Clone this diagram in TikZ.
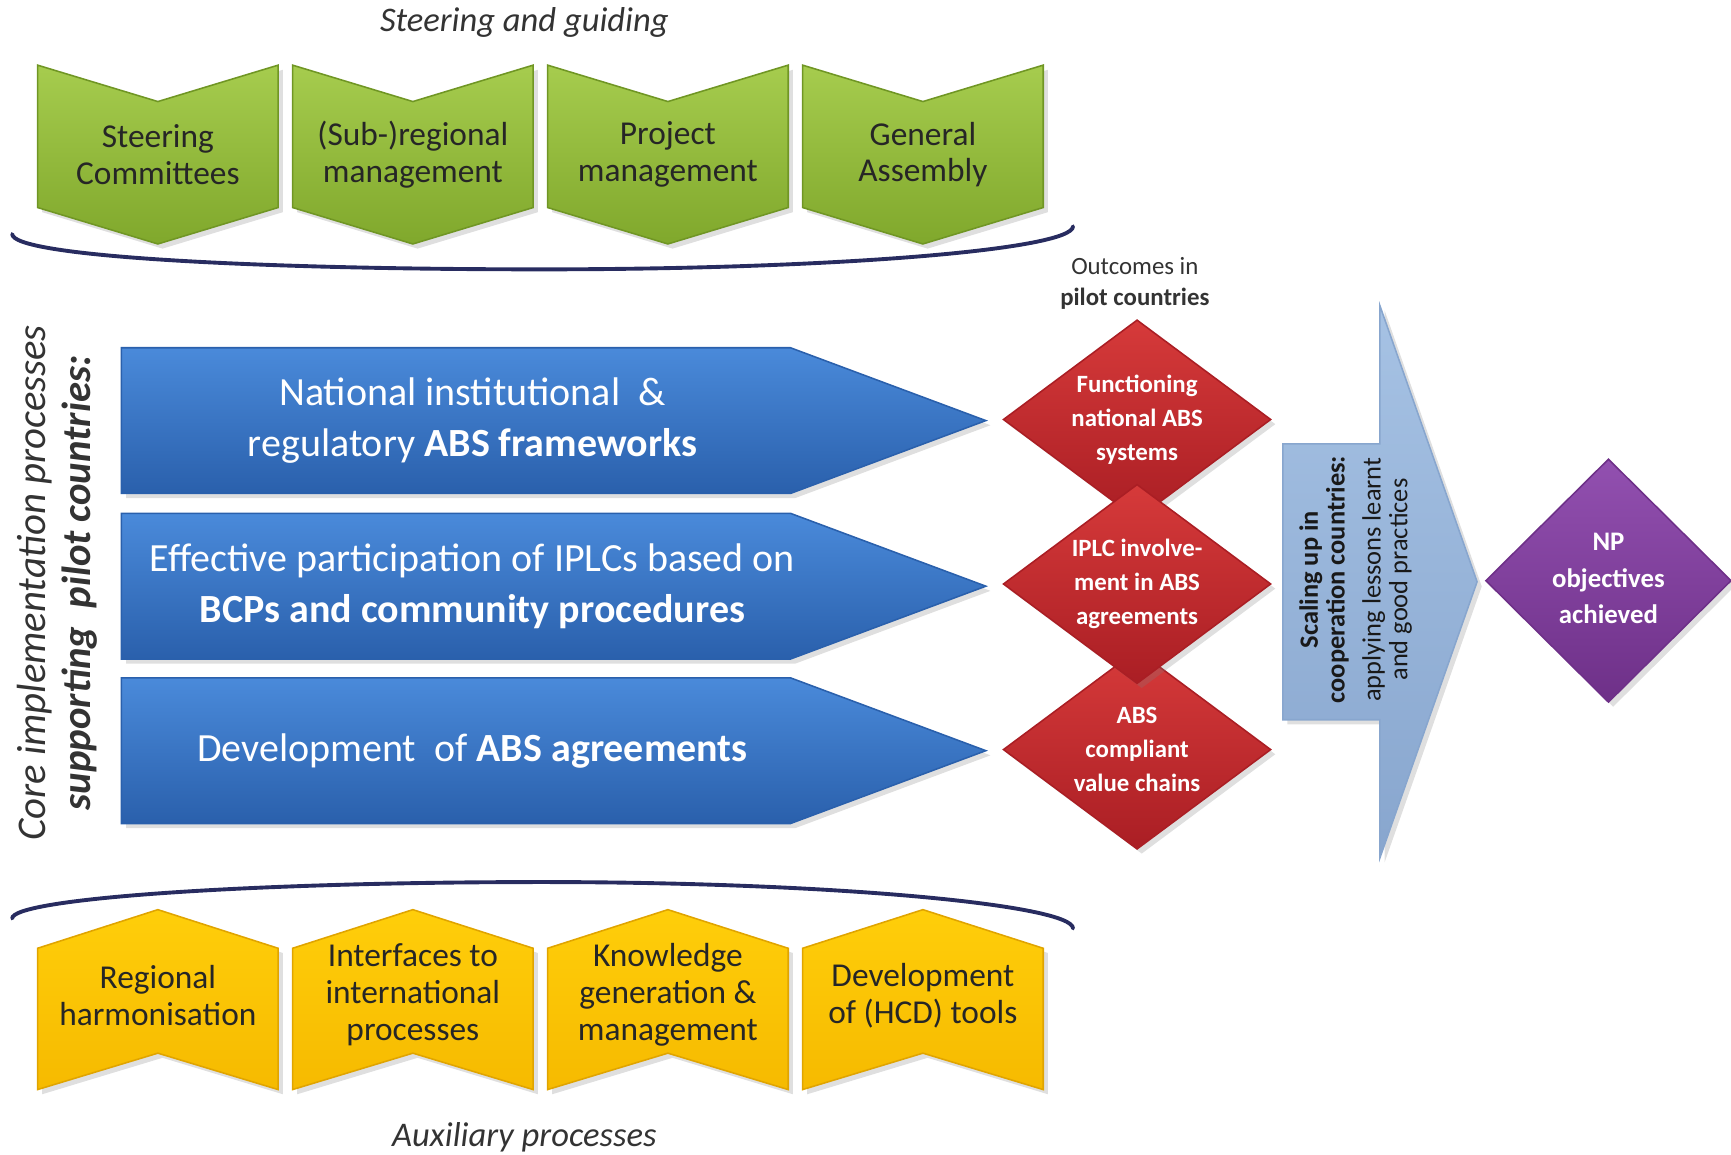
\documentclass[tikz,border=0pt]{standalone}
\usepackage{fontspec}
\setmainfont{Carlito}
\usetikzlibrary{shadows}
\definecolor{greentop}{RGB}{166,204,78}
\definecolor{greenbot}{RGB}{128,168,44}
\definecolor{greenedge}{RGB}{112,150,36}
\definecolor{goldtop}{RGB}{255,206,10}
\definecolor{goldbot}{RGB}{246,186,0}
\definecolor{goldedge}{RGB}{224,164,0}
\definecolor{bluetop}{RGB}{74,138,218}
\definecolor{bluebot}{RGB}{42,96,172}
\definecolor{redtop}{RGB}{214,58,58}
\definecolor{redbot}{RGB}{170,30,36}
\definecolor{purpletop}{RGB}{146,80,176}
\definecolor{purplebot}{RGB}{110,48,136}
\definecolor{skytop}{RGB}{166,194,228}
\definecolor{skybot}{RGB}{136,166,206}
\definecolor{arcline}{RGB}{40,44,96}

\begin{document}
\begin{tikzpicture}[x=0.01cm,y=-0.01cm,
 ombre/.style={drop shadow={opacity=0.25,shadow xshift=1.2pt,shadow yshift=-1.2pt}},
 vert/.style={draw=greenedge,line width=0.4pt,top color=greentop,bottom color=greenbot,ombre},
 jaune/.style={draw=goldedge,line width=0.4pt,top color=goldtop,bottom color=goldbot,ombre},
 bleue/.style={draw=bluebot,line width=0.4pt,top color=bluetop,bottom color=bluebot,ombre},
 rouge/.style={draw=redbot,line width=0.4pt,top color=redtop,bottom color=redbot,ombre},
 mauve/.style={draw=purplebot,line width=0.4pt,top color=purpletop,bottom color=purplebot,ombre},
 ciel/.style={draw=skybot,line width=0.4pt,top color=skytop,bottom color=skybot,ombre},
 courbe/.style={draw=arcline,line width=1pt,line cap=round},
 txtbox/.style={align=center,text=black!85,font=\fontsize{8.6}{9.5}\selectfont},
 txtbleu/.style={align=center,text=white,font=\fontsize{10.3}{13.2}\selectfont},
 txtrouge/.style={align=center,text=white,font=\bfseries\fontsize{6.4}{8.8}\selectfont},
 titre/.style={text=black!80,font=\itshape\fontsize{8.9}{10}\selectfont}]
 \useasboundingbox (0,0) rectangle (1568,1046);
 %titre du haut
 \node[titre] (steer) at (475,20) {Steering and guiding};
 %chevron 1 (haut)
 \begin{scope}[shift={(143,0)}]
 \draw[vert] (-109,59)--(0,92)--(109,59)--(109,188)--(0,221)--(-109,188)--cycle;
 \node[txtbox] (sc) at (0,140) {Steering\\Committees};
 \end{scope}
 %chevron 2 (haut)
 \begin{scope}[shift={(374,0)}]
 \draw[vert] (-109,59)--(0,92)--(109,59)--(109,188)--(0,221)--(-109,188)--cycle;
 \node[txtbox] (sr) at (0,140) {(Sub-)regional\\management};
 \end{scope}
 %chevron 3 (haut)
 \begin{scope}[shift={(605,0)}]
 \draw[vert] (-109,59)--(0,92)--(109,59)--(109,188)--(0,221)--(-109,188)--cycle;
 \node[txtbox] (pm) at (0,140) {Project\\management};
 \end{scope}
 %chevron 4 (haut)
 \begin{scope}[shift={(836,0)}]
 \draw[vert] (-109,59)--(0,92)--(109,59)--(109,188)--(0,221)--(-109,188)--cycle;
 \node[txtbox] (ga) at (0,140) {General\\Assembly};
 \end{scope}
 %courbe du haut
 \draw[courbe] (11,212) .. controls (11,232) and (225,244) .. (491,244) .. controls (757,244) and (972,226) .. (972,205);
 %texte vertical a gauche
 \node[rotate=90,align=center,text=black!80,font=\fontsize{10.5}{11.4}\selectfont] (core) at (52,528)
  {\itshape Core implementation processes\\\bfseries\itshape supporting\ \ pilot countries:};
 %fleche bleue 1
 \draw[bleue] (110,315)--(716,315)--(893,381)--(716,447)--(110,447)--cycle;
 \node[txtbleu] (nat) at (428,381) {National institutional\ \ \&\\regulatory \textbf{ABS frameworks}};
 %fleche bleue 2
 \begin{scope}[shift={(0,150)}]
 \draw[bleue] (110,315)--(716,315)--(893,381)--(716,447)--(110,447)--cycle;
 \node[txtbleu] (eff) at (428,381) {Effective participation of IPLCs based on\\\textbf{BCPs and community procedures}};
 \end{scope}
 %fleche bleue 3
 \begin{scope}[shift={(0,299)}]
 \draw[bleue] (110,315)--(716,315)--(893,381)--(716,447)--(110,447)--cycle;
 \node[txtbleu] (dev) at (428,381) {Development\ \ of \textbf{ABS agreements}};
 \end{scope}
 %resultats
 \node[align=center,text=black!80,font=\fontsize{6.4}{8}\selectfont] (outc) at (1028,257) {Outcomes in\\\textbf{pilot countries}};
 %losange 1
 \draw[rouge] (909,380)--(1030,290)--(1151,380)--(1030,470)--cycle;
 \node[txtrouge] (fun) at (1030,380) {Functioning\\national ABS\\systems};
 %losange 3
 \draw[rouge] (909,679)--(1030,589)--(1151,679)--(1030,769)--cycle;
 \node[txtrouge] (val) at (1030,679) {ABS\\compliant\\value chains};
 %losange 2
 \draw[rouge] (909,529)--(1030,439)--(1151,529)--(1030,619)--cycle;
 \node[txtrouge] (iplc) at (1030,529) {IPLC involve-\\ment in ABS\\agreements};
 %grande fleche
 \draw[ciel] (1162,402)--(1250,402)--(1250,277)--(1338,527)--(1250,777)--(1250,652)--(1162,652)--cycle;
 \node[rotate=90,align=center,text=black!90,font=\fontsize{6.8}{6.9}\selectfont] (scal) at (1228,525)
  {\textbf{Scaling up in}\\\textbf{cooperation countries:}\\[2.4pt]applying lessons learnt\\and good practices};
 %losange final
 \draw[mauve] (1346,526)--(1457,416)--(1568,526)--(1457,636)--cycle;
 \node[align=center,text=white,font=\bfseries\fontsize{6.9}{9.4}\selectfont] (np) at (1457,524) {NP\\objectives\\achieved};
 %courbe du bas
 \draw[courbe] (11,832) .. controls (11,814) and (225,799) .. (491,799) .. controls (757,799) and (972,820) .. (972,841);
 %chevron 1 (bas)
 \begin{scope}[shift={(143,0)}]
 \draw[jaune] (-109,859)--(0,824)--(109,859)--(109,987)--(0,954)--(-109,987)--cycle;
 \node[txtbox] (rh) at (0,902) {Regional\\harmonisation};
 \end{scope}
 %chevron 2 (bas)
 \begin{scope}[shift={(374,0)}]
 \draw[jaune] (-109,859)--(0,824)--(109,859)--(109,987)--(0,954)--(-109,987)--cycle;
 \node[txtbox] (ip) at (0,901) {Interfaces to\\international\\processes};
 \end{scope}
 %chevron 3 (bas)
 \begin{scope}[shift={(605,0)}]
 \draw[jaune] (-109,859)--(0,824)--(109,859)--(109,987)--(0,954)--(-109,987)--cycle;
 \node[txtbox] (kg) at (0,901) {Knowledge\\generation \&\\management};
 \end{scope}
 %chevron 4 (bas)
 \begin{scope}[shift={(836,0)}]
 \draw[jaune] (-109,859)--(0,824)--(109,859)--(109,987)--(0,954)--(-109,987)--cycle;
 \node[txtbox] (ht) at (0,902) {Development\\of (HCD) tools};
 \end{scope}
 %titre du bas
 \node[titre] (aux) at (475,1030) {Auxiliary processes};
\end{tikzpicture}
\end{document}
